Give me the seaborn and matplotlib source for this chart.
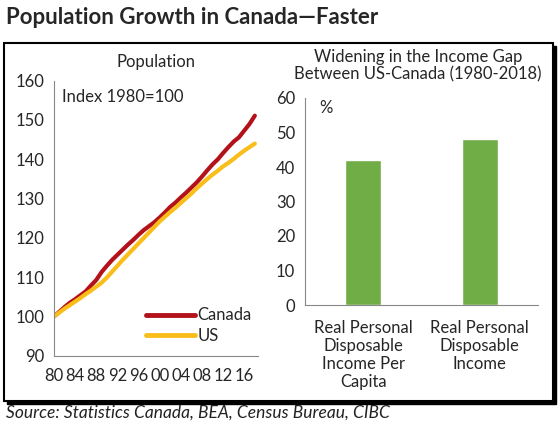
import matplotlib
matplotlib.use("Agg")
import matplotlib.pyplot as plt
from matplotlib.patches import Rectangle
from matplotlib.ticker import MultipleLocator
import seaborn as sns
import pandas as pd

years = list(range(1980, 2019))
canada = [100.0, 101.2, 102.4, 103.5, 104.4, 105.4, 106.4, 107.9, 109.3, 111.3,
          112.9, 114.4, 115.7, 117.0, 118.3, 119.5, 120.8, 122.0, 123.0, 124.0,
          125.2, 126.5, 127.9, 129.0, 130.3, 131.5, 132.8, 134.1, 135.6, 137.2,
          138.7, 140.0, 141.6, 143.1, 144.5, 145.6, 147.3, 149.0, 151.1]
us = [100.0, 101.0, 102.0, 102.9, 103.8, 104.7, 105.7, 106.6, 107.6, 108.6,
      109.9, 111.4, 112.9, 114.4, 115.8, 117.2, 118.6, 120.0, 121.4, 122.8,
      124.2, 125.4, 126.6, 127.7, 128.9, 130.1, 131.3, 132.6, 133.8, 135.0,
      136.1, 137.1, 138.2, 139.1, 140.1, 141.2, 142.2, 143.1, 144.0]
year_labels = ["80", "84", "88", "92", "96", "00", "04", "08", "12", "16"]

gap_categories = ["Real Personal\nDisposable\nIncome Per\nCapita",
                  "Real Personal\nDisposable\nIncome"]
gap_values = [42, 48]

sns.set_style("white")
plt.rcParams["font.family"] = ["Lato", "DejaVu Sans"]

W, H = 560, 432
fig = plt.figure(figsize=(W / 100, H / 100), dpi=100)

def px(x, y):
    return x / W, 1 - y / H

# frame box with shadow
fig.patches.append(Rectangle(px(7, 404), 549 / W, 358 / H, transform=fig.transFigure,
                             facecolor="black", edgecolor="black", zorder=-2))
fig.patches.append(Rectangle(px(4, 401), 549 / W, 358 / H, transform=fig.transFigure,
                             facecolor="white", edgecolor="black", lw=1.5, zorder=-1))

fig.text(6 / W, 1 - 18 / H, "Population Growth in Canada\u2014Faster", fontsize=16,
         fontweight="bold", va="center", ha="left")
fig.text(6 / W, 1 - 413 / H, "Source: Statistics Canada, BEA, Census Bureau, CIBC",
         fontsize=12.5, style="italic", va="center", ha="left", color="#222222")

grey = "#888888"
fs = 12

# left panel: population
ax1 = fig.add_axes([54 / W, 1 - 355.8 / H, 204 / W, 275.1 / H])
df = pd.DataFrame({"year": years * 2, "value": canada + us,
                   "country": ["Canada"] * len(years) + ["US"] * len(years)})
sns.lineplot(data=df, x="year", y="value", hue="country",
             palette={"Canada": "#B3121B", "US": "#F9BE1A"}, lw=3, ax=ax1)
ax1.set_xlim(1980, 2018.6)
ax1.set_ylim(90, 160)
ax1.set_yticks(range(90, 161, 10))
ax1.set_xticks(range(1980, 2017, 4))
ax1.set_xticklabels(year_labels)
ax1.xaxis.set_minor_locator(MultipleLocator(1))
ax1.set_xlabel("")
ax1.set_ylabel("")
for s in ["top", "right"]:
    ax1.spines[s].set_visible(False)
for s in ["left", "bottom"]:
    ax1.spines[s].set_color(grey)
ax1.tick_params(axis="both", which="both", direction="out", color=grey, labelsize=fs)
ax1.tick_params(axis="x", which="both", length=3, width=0.8, pad=6)
ax1.tick_params(axis="y", length=4, width=0.8, pad=3)
ax1.patch.set_alpha(0)
ax1.text(0.04, 0.94, "Index 1980=100", transform=ax1.transAxes, fontsize=fs, va="center")
ax1.set_title("Population", fontsize=fs, pad=10)
leg = ax1.legend(loc="lower left", bbox_to_anchor=(0.42, 0.02), frameon=False,
                 fontsize=fs, handlelength=2.9, handletextpad=0.15, labelspacing=0.25,
                 borderaxespad=0)
for line in leg.get_lines():
    line.set_linewidth(3.5)

# right panel: income gap
ax2 = fig.add_axes([305 / W, 1 - 305 / H, 233 / W, 207 / H])
bdf = pd.DataFrame({"cat": gap_categories, "val": gap_values})
sns.barplot(data=bdf, x="cat", y="val", color="#70AD47", saturation=1, width=0.31, ax=ax2)
ax2.set_xlim(-0.5, 1.5)
ax2.set_ylim(0, 60)
ax2.set_yticks(range(0, 61, 10))
ax2.set_xlabel("")
ax2.set_ylabel("")
ax2.set_xticks([-0.5, 0.5, 1.5], minor=True)
ax2.tick_params(axis="x", which="major", length=0, labelsize=fs, pad=11)
ax2.tick_params(axis="x", which="minor", length=4, width=0.8, color=grey, direction="out")
ax2.tick_params(axis="y", length=4, width=0.8, color=grey, direction="out", labelsize=fs, pad=3)
for label in ax2.get_xticklabels():
    label.set_linespacing(1.15)
for s in ["top", "right"]:
    ax2.spines[s].set_visible(False)
for s in ["left", "bottom"]:
    ax2.spines[s].set_color(grey)
ax2.patch.set_alpha(0)
ax2.text(0.06, 0.95, "%", transform=ax2.transAxes, fontsize=fs, va="center")
fig.text(418 / W, 1 - 66 / H, "Widening in the Income Gap\nBetween US-Canada (1980-2018)",
         fontsize=fs, ha="center", va="center", linespacing=1.1)

fig.savefig("out.png", dpi=100)
